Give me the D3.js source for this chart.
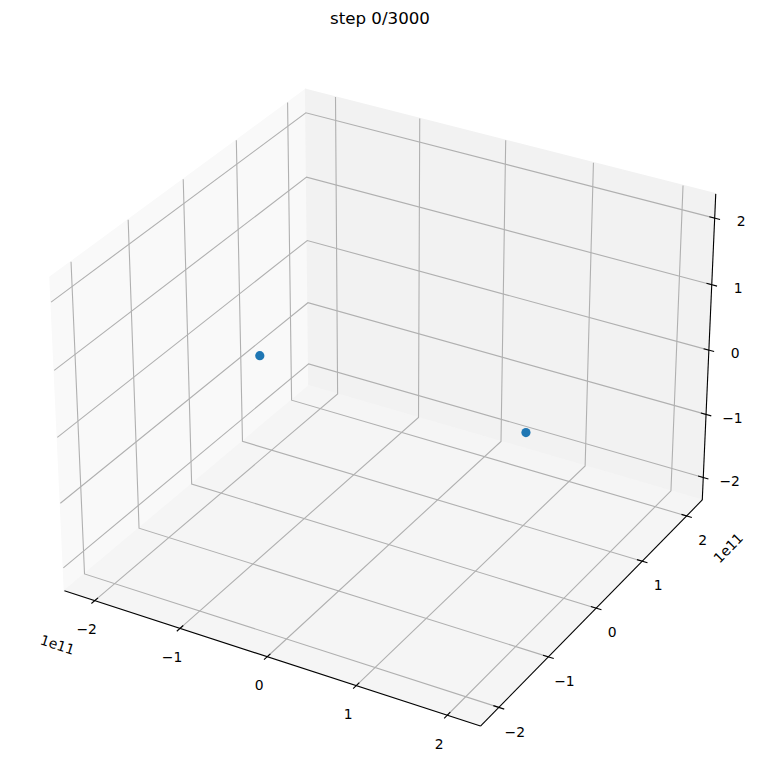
<!DOCTYPE html>
<html><head><meta charset="utf-8">
<script src="https://cdn.jsdelivr.net/npm/d3@7/dist/d3.min.js"></script>
<style>body{margin:0;background:#fff}svg{display:block;font-family:"DejaVu Sans",sans-serif}</style>
</head><body>
<svg id="chart" width="760" height="783"></svg>
<script>
// ---- data ----
const titleText = "step 0/3000";
const xDomain = [-2.36e11, 2.36e11];
const yDomain = [-2.36e11, 2.36e11];
const zDomain = [-2.36e11, 2.36e11];
const tickValues = [-2e11, -1e11, 0, 1e11, 2e11];
const tickLabels = ["\u22122", "\u22121", "0", "1", "2"];
const offsetLabel = "1e11";
const bodyX = [-1.5e11, 1.54e11];
const bodyY = [0, 0];
const bodyZ = [0, 0];
const elevDeg = 30, azimDeg = -60;

// ---- view geometry (matplotlib-like perspective) ----
const svg = d3.select("#chart");
const dot = (a, b) => a[0]*b[0] + a[1]*b[1] + a[2]*b[2];
const el = elevDeg * Math.PI / 180, az = azimDeg * Math.PI / 180;
const W = [Math.cos(el)*Math.cos(az), Math.cos(el)*Math.sin(az), Math.sin(el)];
let U = [-W[1], W[0], 0];
const un = Math.hypot(...U); U = U.map(d => d / un);
const V = [W[1]*U[2]-W[2]*U[1], W[2]*U[0]-W[0]*U[2], W[0]*U[1]-W[1]*U[0]];
const aspectRaw = [4, 4, 3];
const an = Math.hypot(...aspectRaw);
const aspect = aspectRaw.map(d => d * 1.8294640721620434 / an);
const R = aspect.map(d => d / 2);
const dist = 10;
const sx = d3.scaleLinear().domain(xDomain).range([0, aspect[0]]);
const sy = d3.scaleLinear().domain(yDomain).range([0, aspect[1]]);
const sz = d3.scaleLinear().domain(zDomain).range([0, aspect[2]]);
const cx = 389, cy = 393, half = 417.2;
const px = d3.scaleLinear().domain([-0.1, 0.1]).range([cx - half, cx + half]);
const py = d3.scaleLinear().domain([-0.1, 0.1]).range([cy + half, cy - half]);
function project(x, y, z) {
  const p = [sx(x) - R[0], sy(y) - R[1], sz(z) - R[2]];
  const k = 1 / (dist - dot(W, p));
  return [px(dot(U, p) * k), py(dot(V, p) * k)];
}
const line = d3.line();
const [x0, x1] = xDomain, [y0, y1] = yDomain, [z0, z1] = zDomain;

// ---- panes ----
const panes = [
  {pts: [[x0,y0,z0],[x0,y1,z0],[x0,y1,z1],[x0,y0,z1]], fill: "#f9f9f9"},
  {pts: [[x0,y1,z0],[x1,y1,z0],[x1,y1,z1],[x0,y1,z1]], fill: "#f2f2f2"},
  {pts: [[x0,y0,z0],[x1,y0,z0],[x1,y1,z0],[x0,y1,z0]], fill: "#f5f5f5"}
];
svg.append("g").selectAll("path").data(panes).join("path")
  .attr("d", d => line(d.pts.map(p => project(...p))) + "Z")
  .attr("fill", d => d.fill).attr("stroke", d => d.fill).attr("stroke-width", 1.4);

// ---- grid ----
const grid = svg.append("g").attr("fill", "none").attr("stroke", "#b0b0b0").attr("stroke-width", 1.1);
tickValues.forEach(t => {
  [[[t,y0,z0],[t,y1,z0],[t,y1,z1]],
   [[x1,t,z0],[x0,t,z0],[x0,t,z1]],
   [[x0,y0,t],[x0,y1,t],[x1,y1,t]]].forEach(g =>
    grid.append("path").attr("d", line(g.map(p => project(...p)))));
});

// ---- axis lines ----
const axes = svg.append("g").attr("stroke", "#000").attr("stroke-width", 1.1).attr("fill", "none");
[[[x0,y0,z0],[x1,y0,z0]], [[x1,y0,z0],[x1,y1,z0]], [[x1,y1,z0],[x1,y1,z1]]].forEach(a =>
  axes.append("path").attr("d", line(a.map(p => project(...p)))));

// ---- ticks & labels ----
const dy = (y1 - y0) / 12, dx = (x1 - x0) / 12;
const tickG = svg.append("g");
const labelG = svg.append("g").attr("font-size", 13.9).attr("text-anchor", "middle").attr("fill", "#000");
const axisDefs = [
  {pt: t => [t, y0, z0], a: t => [t, y0 - 0.15*dy, z0], b: t => [t, y0 + 0.15*dy, z0], off: [-8, 28.3]},
  {pt: t => [x1, t, z0], a: t => [x1 + 0.15*dx, t, z0], b: t => [x1 - 0.15*dx, t, z0], off: [16, 24.2]},
  {pt: t => [x1, y1, t], a: t => [x1 + 0.15*dx, y1, t], b: t => [x1 - 0.15*dx, y1, t], off: [26.4, 3.2]}
];
axisDefs.forEach(ax => {
  tickValues.forEach((t, i) => {
    const a = project(...ax.a(t)), b = project(...ax.b(t));
    tickG.append("line").attr("x1", a[0]).attr("y1", a[1]).attr("x2", b[0]).attr("y2", b[1])
      .attr("stroke", "#000").attr("stroke-width", 1.1);
    const p = project(...ax.pt(t));
    labelG.append("text").attr("x", p[0] + ax.off[0]).attr("y", p[1] + ax.off[1] + 5)
      .text(tickLabels[i]);
  });
});

// ---- offset texts ----
function axisAngle(pa, pb) {
  const a = project(...pa), b = project(...pb);
  return Math.atan2(b[1] - a[1], b[0] - a[0]) * 180 / Math.PI;
}
const xo = project(x0, y0, z0), yo = project(x1, y1, z0);
labelG.append("text")
  .attr("transform", `translate(${xo[0] - 7},${xo[1] + 54}) rotate(${axisAngle([x0,y0,z0],[x1,y0,z0])})`)
  .attr("dy", "0.35em").text(offsetLabel);
labelG.append("text")
  .attr("transform", `translate(${yo[0] + 26},${yo[1] + 48}) rotate(${axisAngle([x1,y0,z0],[x1,y1,z0])})`)
  .attr("dy", "0.35em").text(offsetLabel);

// ---- bodies ----
svg.append("g").selectAll("circle").data(bodyX.map((x, i) => [x, bodyY[i], bodyZ[i]])).join("circle")
  .attr("cx", d => project(...d)[0]).attr("cy", d => project(...d)[1])
  .attr("r", 4.6).attr("fill", "#1f77b4");

// ---- title ----
svg.append("text").attr("x", 380).attr("y", 24).attr("text-anchor", "middle")
  .attr("font-size", 16.67).attr("fill", "#000").text(titleText);
</script>
</body></html>
